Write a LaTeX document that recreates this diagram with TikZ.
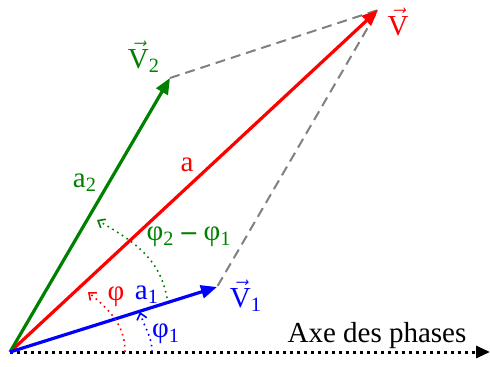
\documentclass[tikz,border=0pt]{standalone}
\usepackage{amsmath}
\usepackage{fontspec}
\setmainfont{Liberation Serif}
\usetikzlibrary{arrows.meta}
\definecolor{vred}{RGB}{255,0,0}
\definecolor{vgreen}{RGB}{0,128,0}
\definecolor{vblue}{RGB}{0,0,255}
\newcommand\vv[1]{$\vec{\text{V}}#1$}
\begin{document}
\begin{tikzpicture}[x=0.5pt,y=-0.5pt, vec/.style={line width=1.6pt,-{Triangle[length=8pt,width=6.5pt]}},
  ang/.style={dotted,line width=0.8pt,-{Straight Barb[length=3pt,width=5pt]}},
  lbl/.style={font=\fontsize{14.5}{16}\selectfont,inner sep=0pt}]
\useasboundingbox (0,0) rectangle (490,367);
\coordinate (O) at (10,352);\coordinate (E) at (490,352);
\coordinate (V) at (378,10);\coordinate (V1) at (217,287);\coordinate (V2) at (170,78);
\coordinate (r0) at (125,352);\coordinate (r1) at (88,292);
\coordinate (b0) at (152,352);\coordinate (b1) at (140,312);
\coordinate (g0) at (167,298);\coordinate (g1) at (97,220);
% parallelogram
\draw[gray,dashed,line width=1pt,dash pattern=on 5pt off 3pt] (V2)--(V)--(V1);
% axis
\draw[line width=1.5pt,dotted,-{Triangle[length=7pt,width=6pt]}] (O)--(E);
\node[lbl] (axe) at (377,336) {Axe des phases};
% vectors
\draw[vec,vred] (O)--(V);\draw[vec,vgreen] (O)--(V2);\draw[vec,vblue] (O)--(V1);
% angles
\draw[ang,vred] (r0) to[out=90,in=-40] (r1);
\draw[ang,vblue] (b0) to[out=90,in=-75] (b1);
\draw[ang,vgreen] (g0) to[out=100,in=-30] (g1);
% labels
\node[lbl,vred] (lV) at (398,22) {\vv{}};
\node[lbl,vgreen] (lV2) at (144,57) {\vv{_{\text{2}}}};
\node[lbl,vblue] (lV1) at (246,296) {\vv{_{\text{1}}}};
\node[lbl,vred] (la) at (187,165) {a};
\node[lbl,vgreen] (la2) at (85,183) {a\textsubscript{2}};
\node[lbl,vblue] (la1) at (147,295) {a\textsubscript{1}};
\node[lbl,vred] (phi) at (116,297) {φ};
\node[lbl,vblue] (phi1) at (166,334) {φ\textsubscript{1}};
\node[lbl,vgreen] (dphi) at (189,237) {φ\textsubscript{2} \textbf{–} φ\textsubscript{1}};
\end{tikzpicture}
\end{document}
